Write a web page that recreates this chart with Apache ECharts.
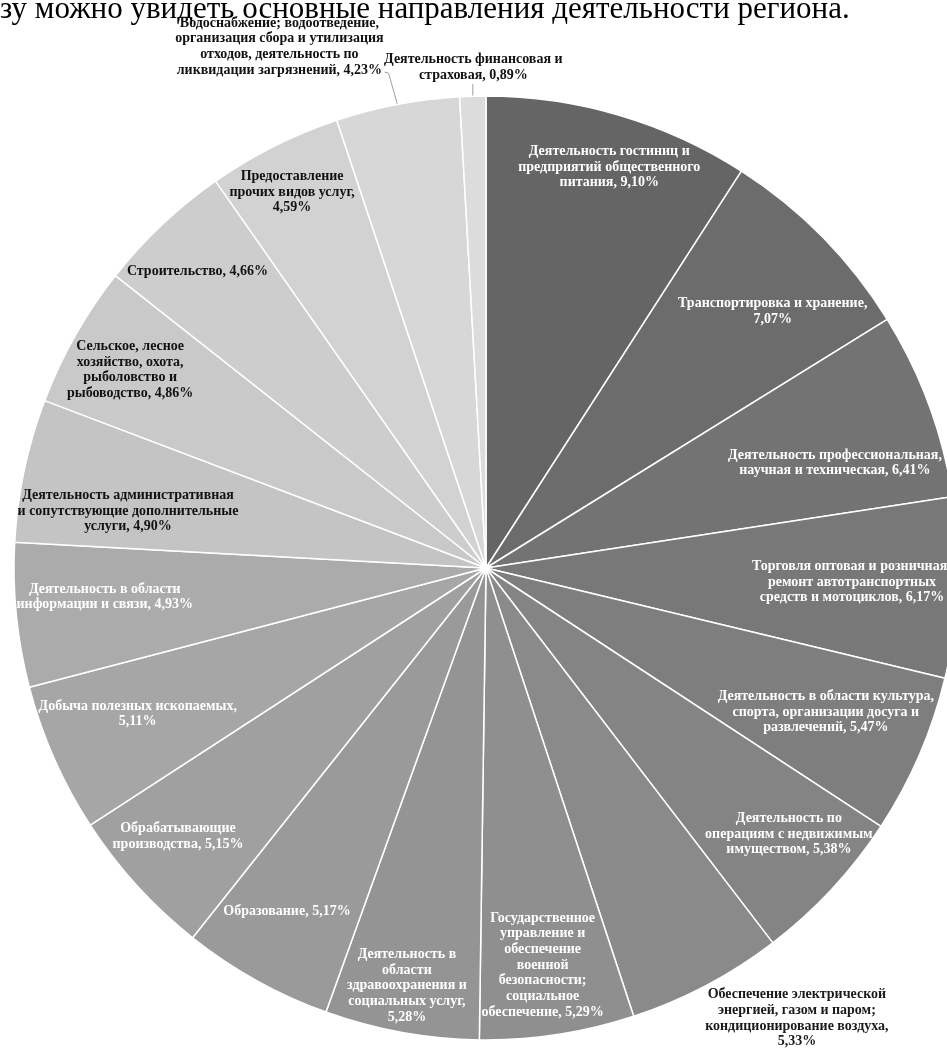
<!DOCTYPE html>
<html>
<head>
<meta charset="utf-8">
<script src="https://cdn.jsdelivr.net/npm/echarts@6/dist/echarts.min.js"></script>
<style>
html,body{margin:0;padding:0;background:#fff;}
#chart{width:947px;height:1048px;}
</style>
</head>
<body>
<div id="chart"></div>
<script>
// ---- data ----
const headerText = 'зу можно увидеть основные направления деятельности региона.';
const categories = [
  'Деятельность гостиниц и\nпредприятий общественного\nпитания',
  'Транспортировка и хранение,\n',
  'Деятельность профессиональная,\nнаучная и техническая',
  'Торговля оптовая и розничная;\nремонт автотранспортных\nсредств и мотоциклов',
  'Деятельность в области культура,\nспорта, организации досуга и\nразвлечений',
  'Деятельность по\nоперациям с недвижимым\nимуществом',
  'Обеспечение электрической\nэнергией, газом и паром;\nкондиционирование воздуха,\n',
  'Государственное\nуправление и\nобеспечение\nвоенной\nбезопасности;\nсоциальное\nобеспечение',
  'Деятельность в\nобласти\nздравоохранения и\nсоциальных услуг,\n',
  'Образование',
  'Обрабатывающие\nпроизводства',
  'Добыча полезных ископаемых,\n',
  'Деятельность в области\nинформации и связи',
  'Деятельность административная\nи сопутствующие дополнительные\nуслуги',
  'Сельское, лесное\nхозяйство, охота,\nрыболовство и\nрыбоводство',
  'Строительство',
  'Предоставление\nпрочих видов услуг,\n',
  'Водоснабжение; водоотведение,\nорганизация сбора и утилизация\nотходов, деятельность по\nликвидации загрязнений',
  'Деятельность финансовая и\nстраховая'
];
const values = [9.10, 7.07, 6.41, 6.17, 5.47, 5.38, 5.33, 5.29, 5.28, 5.17, 5.15, 5.11, 4.93, 4.90, 4.86, 4.66, 4.59, 4.23, 0.89];

// ---- styles ----
const sliceColors = ['#656565','#6c6c6c','#737373','#787878','#7e7e7e','#848484','#8a8a8a','#8f8f8f','#949494','#9a9a9a','#a0a0a0','#a6a6a6','#ababab','#c4c4c4','#c9c9c9','#cdcdcd','#d2d2d2','#d7d7d7','#dcdcdc'];
const textColors = ['#fff','#fff','#fff','#fff','#fff','#fff','#1a1a1a','#fff','#fff','#fff','#fff','#fff','#fff','#111','#111','#111','#111','#111','#111'];
const labelRadius = [0.889,0.815,0.772,0.776,0.782,0.854,1.159,0.85,0.901,0.84,0.866,0.80,0.81,0.768,0.863,0.876,0.896,1.188,1.061];
const labelAngleShift = [0.7,2.7,3.5,-0.2,-0.4,-1.6,-6.8,0.6,0.4,1.0,1.2,1.1,1.4,-2.9,-0.4,-0.9,-0.6,-10.8,0.15];
const outsideLabels = [17, 18];
const CX = 486, CY = 568, R = 472;

function fmtValue(v){ return v.toFixed(2).replace('.', ',') + '%'; }

const data = categories.map((name, i) => {
  const item = {
    name: name,
    value: values[i],
    itemStyle: { color: sliceColors[i] },
    label: { color: textColors[i] }
  };
  if (outsideLabels.indexOf(i) >= 0) {
    item.label.position = 'outside';
    item.labelLine = { show: true, length: 10, length2: 8, lineStyle: { color: '#a0a0a0', width: 1 } };
  }
  return item;
});

const chart = echarts.init(document.getElementById('chart'), null, { renderer: 'canvas' });
chart.setOption({
  animation: false,
  backgroundColor: '#ffffff',
  graphic: [{
    type: 'text',
    left: 0,
    top: -6,
    z: -1,
    style: {
      text: headerText,
      font: '31px "Liberation Serif", "Times New Roman", serif',
      fill: '#000'
    }
  }],
  series: [{
    type: 'pie',
    center: [CX, CY],
    radius: [0, R],
    startAngle: 90,
    clockwise: true,
    avoidLabelOverlap: false,
    silent: true,
    itemStyle: { borderColor: '#ffffff', borderWidth: 1.5 },
    label: {
      show: true,
      position: 'inside',
      fontFamily: '"Liberation Serif", "Times New Roman", serif',
      fontWeight: 'bold',
      fontSize: 14,
      lineHeight: 15.7,
      align: 'center',
      formatter: p => p.name.endsWith('\n') ? p.name + fmtValue(p.value) : p.name + ', ' + fmtValue(p.value)
    },
    labelLine: { show: false },
    labelLayout: function (p) {
      const i = p.dataIndex;
      const isOut = outsideLabels.indexOf(i) >= 0 && p.labelLinePoints && p.labelLinePoints.length;
      let ax, ay;
      if (isOut) {
        ax = p.labelLinePoints[0][0]; ay = p.labelLinePoints[0][1];
      } else {
        ax = p.labelRect.x + p.labelRect.width / 2;
        ay = p.labelRect.y + p.labelRect.height / 2;
      }
      const ang = Math.atan2(ax - CX, -(ay - CY)) + labelAngleShift[i] * Math.PI / 180;
      const d = labelRadius[i] * R;
      const x = CX + d * Math.sin(ang), y = CY - d * Math.cos(ang);
      const res = { x: x, y: y, align: 'center', verticalAlign: 'middle' };
      if (isOut) {
        const w = p.labelRect.width, h = p.labelRect.height;
        const edge = p.labelLinePoints[0];
        const right = x + w / 2, bottom = y + h / 2;
        if (edge[0] > right) {
          res.labelLinePoints = [edge, [right + 5, bottom - 5], [right + 1, bottom - 6]];
        } else {
          res.labelLinePoints = [edge, [edge[0], bottom + 1], [edge[0], bottom + 1]];
        }
      }
      return res;
    },
    data: data
  }]
});
</script>
</body>
</html>
